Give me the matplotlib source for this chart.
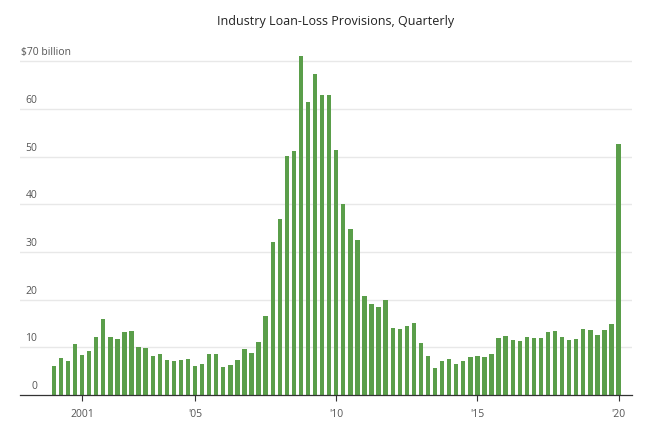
import matplotlib
matplotlib.use("Agg")
import matplotlib.pyplot as plt
import numpy as np

# quarterly, 2000 Q1 .. 2020 Q1, $ billion
provisions = [
    6.1, 7.7, 7.1, 10.6, 8.4, 9.3, 12.2, 15.9, 12.1, 11.8,
    13.3, 13.5, 10.1, 9.8, 8.2, 8.6, 7.3, 7.1, 7.3, 7.5,
    6.1, 6.4, 8.7, 8.6, 5.8, 6.2, 7.3, 9.6, 8.9, 11.1,
    16.6, 32.1, 37.0, 50.1, 51.1, 71.0, 61.4, 67.2, 62.8, 62.8,
    51.4, 40.1, 34.8, 32.5, 20.8, 19.0, 18.4, 19.9, 14.1, 13.8,
    14.5, 15.0, 10.8, 8.2, 5.7, 7.1, 7.5, 6.6, 7.1, 8.0,
    8.2, 8.0, 8.5, 12.0, 12.4, 11.5, 11.3, 12.2, 11.9, 11.9,
    13.3, 13.5, 12.2, 11.5, 11.7, 13.8, 13.7, 12.6, 13.7, 14.8,
    52.6,
]
tick_quarters = [4, 20, 40, 60, 80]
tick_labels = ["2001", "'05", "'10", "'15", "'20"]
y_ticks = [0, 10, 20, 30, 40, 50, 60, 70]
y_labels = ["0", "10", "20", "30", "40", "50", "60", "$70 billion"]

GREEN = "#5a9e4a"
GRID = "#e8e8e8"
LABEL = "#555555"
FONT = ["Open Sans", "DejaVu Sans"]

fig = plt.figure(figsize=(6.5, 4.3), dpi=100)
# 4.77 px per billion, zero line at y=395 px
ax = fig.add_axes([20 / 650, 35 / 430, 612 / 650, 343.4 / 430])

x = np.arange(len(provisions))
ax.bar(x, provisions, width=0.62, color=GREEN, zorder=2)

ax.set_xlim(-4.8, 81.9)
ax.set_ylim(0, 72)

for v in y_ticks[1:]:
    ax.axhline(v, color=GRID, lw=1, zorder=1)

# y labels sit just above their gridlines
trans = ax.get_yaxis_transform()
for v, lab in zip(y_ticks, y_labels):
    if lab.startswith("$"):
        ax.text(0.002, v + 0.6, lab, transform=trans, ha="left", va="bottom",
                fontsize=7.5, color=LABEL, family=FONT)
    else:
        ax.text(0.028, v + 0.6, lab, transform=trans, ha="right", va="bottom",
                fontsize=7.5, color=LABEL, family=FONT)

ax.set_yticks([])
ax.set_xticks(tick_quarters)
ax.set_xticklabels(tick_labels, fontsize=7.5, color=LABEL, family=FONT)
ax.tick_params(axis="x", length=4, width=0.8, color="#333333", pad=6)

for side in ["top", "right", "left"]:
    ax.spines[side].set_visible(False)
ax.spines["bottom"].set_color("#333333")
ax.spines["bottom"].set_linewidth(0.9)
ax.spines["bottom"].set_zorder(3)

fig.text(336 / 650, 1 - 22 / 430, "Industry Loan-Loss Provisions, Quarterly",
         ha="center", va="center", fontsize=9, color="#222222", family=FONT)

fig.savefig("out.png", dpi=100)
